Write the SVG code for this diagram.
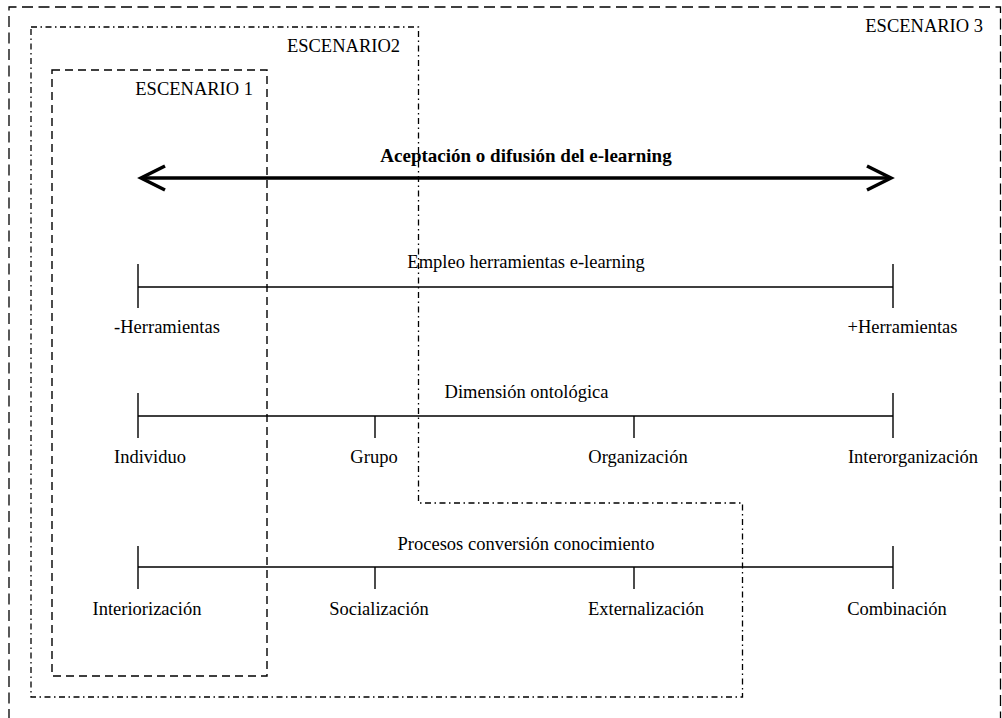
<svg xmlns="http://www.w3.org/2000/svg" width="1002" height="718" viewBox="0 0 1002 718">
<style>
text{font-family:"Liberation Serif","Times New Roman",serif;font-size:18.5px;fill:#000}
.c{text-anchor:middle}
.b{font-weight:bold;font-size:19px}
.ax{stroke:#000;stroke-width:1.4;fill:none}
.s3{stroke:#000;stroke-width:1.3;fill:none;stroke-dasharray:11 5.5}
.s2{stroke:#000;stroke-width:1.3;fill:none;stroke-dasharray:6 3.5 1.5 3.5}
.s1{stroke:#000;stroke-width:1.4;fill:none;stroke-dasharray:8 5}
.arr{stroke:#000;stroke-width:3.5;fill:none}
</style>
<rect width="1002" height="718" fill="#fff"/>
<g id="escenario3">
<path class="s3" d="M9,720 V7 H1000.5 V720"/>
<text x="983" y="32" text-anchor="end">ESCENARIO 3</text>
</g>
<g id="escenario2">
<path class="s2" d="M31,27 H418.5 V503 H742.5 V697 H31 Z"/>
<text x="400" y="52" text-anchor="end">ESCENARIO2</text>
</g>
<g id="escenario1">
<rect class="s1" x="52" y="70" width="215" height="606"/>
<text x="253" y="95" text-anchor="end">ESCENARIO 1</text>
</g>
<g id="aceptacion">
<text class="c b" x="526" y="162">Aceptación o difusión del e-learning</text>
</g>
<g id="connectors">
<g id="arrow">
<path class="arr" d="M141,178 H891"/>
<path class="arr" d="M165,166 L141,178 L165,190"/>
<path class="arr" d="M867,166 L891,178 L867,190"/>
</g>
<g id="axis1">
<path class="ax" d="M138,287 H893 M138,264 V308 M893,264 V308"/>
</g>
<g id="axis2">
<path class="ax" d="M138,416 H893 M138,393 V438 M893,393 V438 M375,416 V438 M634,416 V438"/>
</g>
<g id="axis3">
<path class="ax" d="M138,567 H893 M138,546 V589 M893,546 V589 M375,567 V589 M634,567 V589"/>
</g>
</g>
<g id="herramientas">
<text class="c" x="526" y="268">Empleo herramientas e-learning</text>
<text class="c" x="167" y="333">-Herramientas</text>
<text class="c" x="902.5" y="333">+Herramientas</text>
</g>
<g id="ontologica">
<text class="c" x="526.5" y="398">Dimensión ontológica</text>
<text class="c" x="150" y="463">Individuo</text>
<text class="c" x="374" y="463">Grupo</text>
<text class="c" x="638" y="463">Organización</text>
<text class="c" x="913" y="463">Interorganización</text>
</g>
<g id="procesos">
<text class="c" x="526" y="550">Procesos conversión conocimiento</text>
<text class="c" x="147" y="615">Interiorización</text>
<text class="c" x="379" y="615">Socialización</text>
<text class="c" x="646" y="615">Externalización</text>
<text class="c" x="897" y="615">Combinación</text>
</g>
</svg>
